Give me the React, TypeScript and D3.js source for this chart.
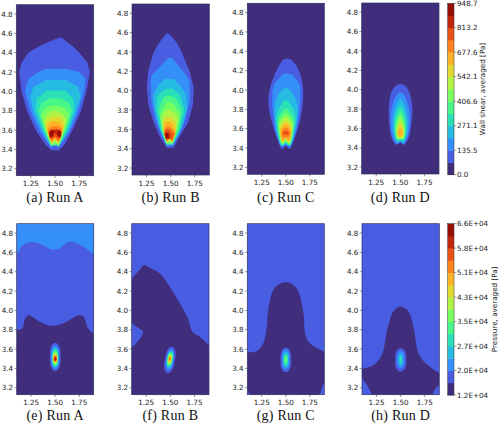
import React from "react";
import * as d3 from "d3";

type Row = [number, number, number];
type Pt = [number, number];

const xTicks = [1.25, 1.5, 1.75];
const yTicks = [3.2, 3.4, 3.6, 3.8, 4.0, 4.2, 4.4, 4.6, 4.8];
const shearTicks = ["0.0", "135.5", "271.1", "406.6", "542.1", "677.6", "813.2", "948.7"];
const pressureTicks = ["1.2E+04", "2.0E+04", "2.7E+04", "3.5E+04", "4.3E+04", "5.1E+04", "5.8E+04", "6.6E+04"];
const topCaptions = ["(a) Run A", "(b) Run B", "(c) Run C", "(d) Run D"];
const bottomCaptions = ["(e) Run A", "(f) Run B", "(g) Run C", "(h) Run D"];

// Wall shear contour outlines: [y, xLeft, xRight], one list per level, from band 1 upward
const shearA: Row[][] = [
  [[3.39,1.46,1.54],[3.45,1.40,1.60],[3.6,1.30,1.68],[3.8,1.21,1.77],[4.0,1.155,1.825],[4.2,1.13,1.86],[4.3,1.155,1.835],[4.4,1.225,1.75],[4.47,1.34,1.68],[4.51,1.43,1.62],[4.555,1.54,1.57]],
  [[3.42,1.46,1.54],[3.6,1.335,1.66],[3.8,1.245,1.74],[4.0,1.19,1.80],[4.13,1.225,1.815],[4.2,1.33,1.75],[4.23,1.40,1.62]],
  [[3.43,1.47,1.53],[3.5,1.41,1.59],[3.6,1.36,1.645],[3.8,1.275,1.72],[3.95,1.245,1.765],[4.05,1.28,1.74],[4.12,1.42,1.60]],
  [[3.44,1.47,1.53],[3.6,1.375,1.63],[3.8,1.30,1.70],[3.93,1.31,1.69],[4.01,1.42,1.60]],
  [[3.43,1.46,1.54],[3.6,1.39,1.615],[3.8,1.33,1.675],[3.88,1.36,1.645],[3.93,1.45,1.56]],
  [[3.44,1.46,1.54],[3.6,1.40,1.60],[3.75,1.355,1.65],[3.82,1.40,1.61],[3.85,1.46,1.54]],
  [[3.45,1.465,1.535],[3.6,1.41,1.59],[3.7,1.385,1.62],[3.76,1.42,1.585],[3.8,1.48,1.52]],
  [[3.46,1.465,1.535],[3.58,1.42,1.58],[3.67,1.40,1.60],[3.72,1.44,1.57],[3.74,1.49,1.52]],
  [[3.47,1.465,1.535],[3.56,1.43,1.57],[3.63,1.415,1.585],[3.68,1.45,1.55],[3.69,1.49,1.51]],
  [[3.48,1.465,1.535],[3.56,1.43,1.565],[3.61,1.43,1.57],[3.64,1.47,1.53]],
  [[3.5,1.45,1.55],[3.58,1.435,1.565],[3.61,1.46,1.54]],
  [[3.52,1.445,1.555],[3.58,1.44,1.56],[3.6,1.47,1.53]],
];
const shearANotch = [0, 3.44, 3.45, 3.455, 3.46, 3.47, 3.48, 3.5, 3.51, 3.52, 3.53, 3.57];
// Small marks at the foot of run A and run B: [yBottom, yTop, xCentre, halfWidth, band]
const lobesA = [[3.525,3.595,1.465,0.02,13],[3.525,3.595,1.545,0.02,13],[3.44,3.485,1.5,0.009,6]];

const shearB: Row[][] = [
  [[3.41,1.46,1.53],[3.52,1.39,1.59],[3.67,1.325,1.68],[3.85,1.27,1.73],[4.03,1.253,1.74],[4.2,1.267,1.695],[4.4,1.325,1.615],[4.5,1.385,1.56],[4.57,1.44,1.50],[4.59,1.455,1.48]],
  [[3.43,1.46,1.525],[3.55,1.405,1.59],[3.7,1.345,1.65],[3.9,1.30,1.70],[4.1,1.295,1.695],[4.16,1.305,1.66],[4.25,1.39,1.59],[4.34,1.48,1.51]],
  [[3.44,1.46,1.52],[3.6,1.385,1.61],[3.8,1.335,1.67],[3.95,1.32,1.66],[4.05,1.37,1.60],[4.12,1.44,1.53]],
  [[3.44,1.455,1.52],[3.6,1.395,1.60],[3.8,1.35,1.645],[3.95,1.365,1.60],[4.02,1.45,1.52]],
  [[3.45,1.455,1.52],[3.6,1.405,1.585],[3.8,1.375,1.615],[3.9,1.41,1.57],[3.95,1.45,1.50]],
  [[3.45,1.455,1.52],[3.6,1.415,1.57],[3.75,1.39,1.60],[3.85,1.44,1.54],[3.88,1.46,1.50]],
  [[3.46,1.46,1.52],[3.6,1.42,1.56],[3.72,1.405,1.575],[3.78,1.44,1.53],[3.80,1.46,1.49]],
  [[3.47,1.46,1.52],[3.6,1.425,1.555],[3.68,1.42,1.55],[3.73,1.46,1.50]],
  [[3.47,1.46,1.52],[3.58,1.43,1.55],[3.65,1.43,1.53],[3.68,1.455,1.49]],
  [[3.48,1.46,1.52],[3.56,1.43,1.55],[3.61,1.435,1.51],[3.63,1.46,1.485]],
  [[3.49,1.455,1.51],[3.55,1.435,1.53],[3.58,1.44,1.50],[3.60,1.46,1.48]],
  [[3.5,1.45,1.49],[3.55,1.44,1.49],[3.57,1.45,1.48]],
  [[3.51,1.45,1.475],[3.54,1.445,1.48],[3.56,1.455,1.47]],
];
const shearBNotch = [0, 0, 0, 3.45, 3.46, 3.47, 3.48, 3.49, 3.5, 3.505, 3.52, 0, 0];
const lobesB = [[3.44,3.48,1.49,0.008,6]];

const shearC: Row[][] = [
  [[3.39,1.46,1.54],[3.5,1.41,1.59],[3.65,1.36,1.64],[3.85,1.32,1.675],[4.0,1.33,1.68],[4.15,1.38,1.655],[4.25,1.43,1.61],[4.31,1.47,1.56],[4.32,1.49,1.53]],
  [[3.41,1.46,1.54],[3.55,1.40,1.60],[3.7,1.375,1.63],[3.9,1.36,1.65],[4.05,1.375,1.645],[4.13,1.44,1.59],[4.165,1.47,1.55]],
  [[3.42,1.46,1.54],[3.6,1.40,1.60],[3.8,1.385,1.625],[3.93,1.41,1.59],[4.0,1.465,1.54],[4.02,1.49,1.52]],
  [[3.43,1.46,1.54],[3.6,1.41,1.59],[3.75,1.405,1.60],[3.85,1.455,1.55],[3.9,1.495,1.505]],
  [[3.43,1.46,1.54],[3.6,1.42,1.58],[3.7,1.42,1.585],[3.78,1.465,1.535],[3.81,1.495,1.505]],
  [[3.44,1.465,1.535],[3.58,1.43,1.57],[3.68,1.43,1.57],[3.76,1.495,1.505]],
  [[3.45,1.465,1.535],[3.58,1.435,1.565],[3.66,1.44,1.56],[3.72,1.495,1.505]],
  [[3.46,1.47,1.53],[3.56,1.44,1.56],[3.63,1.45,1.55],[3.68,1.495,1.505]],
  [[3.47,1.47,1.53],[3.55,1.445,1.555],[3.62,1.46,1.54],[3.65,1.495,1.505]],
  [[3.51,1.47,1.53],[3.55,1.455,1.545],[3.59,1.47,1.53],[3.61,1.495,1.505]],
  [[3.54,1.475,1.525],[3.56,1.47,1.53],[3.575,1.49,1.51]],
];
const shearCNotch = [3.42, 3.43, 3.44, 3.45, 3.46, 3.47, 3.48, 3.49, 3.5, 0, 0];

const shearD: Row[][] = [
  [[3.43,1.46,1.535],[3.5,1.41,1.585],[3.65,1.385,1.615],[3.8,1.38,1.625],[3.95,1.40,1.60],[4.03,1.44,1.56],[4.055,1.48,1.52]],
  [[3.44,1.465,1.535],[3.55,1.41,1.585],[3.7,1.40,1.60],[3.85,1.42,1.58],[3.95,1.465,1.535],[3.97,1.49,1.51]],
  [[3.45,1.47,1.53],[3.55,1.43,1.57],[3.7,1.425,1.575],[3.82,1.45,1.55],[3.9,1.49,1.51]],
  [[3.47,1.47,1.53],[3.55,1.44,1.56],[3.68,1.44,1.56],[3.78,1.465,1.535],[3.83,1.495,1.505]],
  [[3.48,1.47,1.53],[3.55,1.45,1.55],[3.66,1.45,1.55],[3.74,1.475,1.525],[3.78,1.495,1.505]],
  [[3.49,1.47,1.53],[3.55,1.455,1.545],[3.64,1.46,1.54],[3.73,1.495,1.505]],
  [[3.5,1.475,1.525],[3.56,1.46,1.54],[3.63,1.47,1.53],[3.69,1.495,1.505]],
  [[3.51,1.48,1.52],[3.56,1.47,1.53],[3.61,1.475,1.525],[3.65,1.495,1.505]],
  [[3.52,1.485,1.515],[3.55,1.475,1.525],[3.58,1.48,1.52],[3.6,1.495,1.505]],
];
const shearDNotch = [3.45, 3.46, 3.47, 3.48, 3.49, 3.5, 0, 0, 0];

// Pressure fields: large regions, as [x, y] outlines
const pressureATop: Pt[] = [[1.05,4.55],[1.1,4.58],[1.15,4.66],[1.2,4.695],[1.275,4.705],[1.36,4.68],[1.46,4.63],[1.54,4.64],[1.64,4.71],[1.75,4.68],[1.85,4.62],[1.9,4.575],[1.95,4.54],[1.95,5],[1.05,5]];
const pressureADark: Pt[] = [[1.05,3.8],[1.1,3.8],[1.155,3.81],[1.19,3.92],[1.225,3.95],[1.345,3.88],[1.46,3.84],[1.58,3.865],[1.75,3.95],[1.8,3.93],[1.84,3.815],[1.9,3.76],[1.95,3.72],[1.95,3.05],[1.05,3.05]];
const pressureBDark: Pt[] = [[1.05,4.28],[1.1,4.33],[1.165,4.40],[1.23,4.47],[1.285,4.44],[1.387,4.385],[1.47,4.28],[1.558,4.14],[1.68,3.92],[1.73,3.775],[1.8,3.73],[1.9,3.64],[1.95,3.6],[1.95,3.05],[1.05,3.05]];
const pressureBBite: Pt[] = [[1.05,3.6],[1.1,3.62],[1.147,3.66],[1.216,3.78],[1.147,3.83],[1.1,3.87],[1.05,3.9]];
const pressureCDark: Pt[] = [[1.05,3.56],[1.1,3.565],[1.2,3.58],[1.267,3.66],[1.30,3.815],[1.32,4.02],[1.37,4.21],[1.43,4.27],[1.507,4.29],[1.61,4.23],[1.68,3.99],[1.705,3.745],[1.75,3.66],[1.9,3.57],[1.95,3.54],[1.95,3.15],[1.9,3.245],[1.855,3.12],[1.855,3.05],[1.135,3.05],[1.135,3.12],[1.1,3.16],[1.05,3.2]];
const pressureDDark: Pt[] = [[1.05,3.38],[1.1,3.395],[1.22,3.435],[1.305,3.54],[1.365,3.815],[1.425,3.99],[1.5,4.04],[1.58,3.99],[1.635,3.815],[1.69,3.54],[1.78,3.435],[1.9,3.35],[1.95,3.32],[1.95,3.18],[1.9,3.225],[1.83,3.13],[1.83,3.05],[1.2,3.05],[1.2,3.13],[1.1,3.295],[1.05,3.33]];

// Pressure spots: [yBottom, yTop, xCentre, halfWidth, band]
const spotA = [[3.37,3.665,1.5,0.055,1],[3.39,3.64,1.5,0.042,2],[3.41,3.615,1.5,0.035,3],[3.42,3.60,1.5,0.03,4],[3.43,3.585,1.5,0.027,5],[3.44,3.57,1.5,0.024,6],[3.45,3.555,1.5,0.022,7],[3.46,3.545,1.5,0.02,8],[3.465,3.535,1.5,0.018,9],[3.47,3.53,1.5,0.016,10],[3.475,3.525,1.5,0.014,11],[3.48,3.515,1.5,0.012,12]];
const spotB = [[3.35,3.625,1.495,0.052,1],[3.38,3.60,1.495,0.037,2],[3.40,3.585,1.495,0.031,3],[3.42,3.57,1.495,0.027,4],[3.43,3.56,1.495,0.024,5],[3.44,3.55,1.495,0.021,6],[3.45,3.54,1.495,0.018,7],[3.46,3.53,1.495,0.015,8],[3.47,3.525,1.495,0.012,9],[3.48,3.52,1.495,0.009,10]];
const spotC = [[3.36,3.615,1.5,0.055,1],[3.385,3.595,1.5,0.04,2],[3.41,3.57,1.5,0.03,3],[3.43,3.55,1.5,0.022,4],[3.45,3.53,1.5,0.014,5],[3.47,3.515,1.5,0.008,6]];
const spotD = [[3.365,3.61,1.5,0.058,1],[3.40,3.58,1.5,0.038,2],[3.43,3.55,1.5,0.02,3],[3.45,3.53,1.5,0.012,4]];

const bands = 14;
const bandColor = (i: number) => d3.interpolateTurbo((i + 0.5) / bands);
const xDomain: Pt = [1.1, 1.9];
const yDomain: Pt = [3.128, 4.896];

const rowsToPts = (rows: Row[], notch: number): Pt[] => {
  const left = rows.map((r) => [r[1], r[0]] as Pt);
  const right = rows.slice().reverse().map((r) => [r[2], r[0]] as Pt);
  const pts = [...left, ...right];
  if (notch) pts.push([(rows[0][1] + rows[0][2]) / 2, notch]);
  return pts;
};

function Spots({ spots, rotate, x, y }: any) {
  return spots.map((s: number[], i: number) => {
    const yt = y(s[1]);
    const yb = y(s[0]);
    const cy = (yt + yb) / 2;
    const hw = x(s[2] + s[3]) - x(s[2]);
    const h = yb - yt;
    return (
      <rect key={i} x={x(s[2]) - hw} y={yt} width={2 * hw} height={h} rx={hw} ry={h * 0.36}
        fill={bandColor(s[4])} transform={`rotate(${rotate || 0} ${x(s[2])} ${cy})`} />
    );
  });
}

function Panel({ id, x0, x1, y0, y1, caption, capY, children }: any) {
  const x = d3.scaleLinear().domain(xDomain).range([x0, x1]);
  const y = d3.scaleLinear().domain(yDomain).range([y1, y0]);
  const tickCol = "#333";
  return (
    <g fontFamily="DejaVu Sans" fontSize={7.2} fill="#222">
      <clipPath id={id}><rect x={x0} y={y0} width={x1 - x0} height={y1 - y0} /></clipPath>
      <g clipPath={`url(#${id})`}><g filter="url(#soft)">{children(x, y)}</g></g>
      <rect x={x0} y={y0} width={x1 - x0} height={y1 - y0} fill="none" stroke="#2b3560" strokeWidth={0.7} />
      {xTicks.map((t) => (
        <g key={t}>
          <line x1={x(t)} x2={x(t)} y1={y1} y2={y1 + 2.3} stroke={tickCol} strokeWidth={0.5} />
          <text x={x(t)} y={y1 + 10.5} textAnchor="middle">{t.toFixed(2)}</text>
        </g>
      ))}
      {yTicks.map((t) => (
        <g key={t}>
          <line x1={x0 - 2.3} x2={x0} y1={y(t)} y2={y(t)} stroke={tickCol} strokeWidth={0.5} />
          <text x={x0 - 3.6} y={y(t) + 2.6} textAnchor="end">{t.toFixed(1)}</text>
        </g>
      ))}
      <text x={(x0 + x1) / 2} y={capY} textAnchor="middle" fontFamily="Liberation Serif" fontSize={14} letterSpacing={0.25} fill="#111">{caption}</text>
    </g>
  );
}

function ShearField({ levels, notches, smooth, lobes, x, y }: any) {
  const line = d3.line<Pt>().x((d) => x(d[0])).y((d) => y(d[1]))
    .curve(smooth ? d3.curveCatmullRomClosed.alpha(0.5) : d3.curveLinearClosed);
  return (
    <>
      <rect x={x(1)} y={y(5)} width={x(2) - x(1)} height={y(3) - y(5)} fill={bandColor(0)} />
      {levels.map((rows: Row[], i: number) => (
        <path key={i} d={line(rowsToPts(rows, notches[i])) as string} fill={bandColor(i + 1)} />
      ))}
      <Spots spots={lobes} rotate={0} x={x} y={y} />
    </>
  );
}

function PressureField({ regions, spots, rotate, x, y }: any) {
  const line = d3.line<Pt>().x((d) => x(d[0])).y((d) => y(d[1])).curve(d3.curveCatmullRom.alpha(0.5));
  return (
    <>
      <rect x={x(1)} y={y(5)} width={x(2) - x(1)} height={y(3) - y(5)} fill={bandColor(1)} />
      {regions.map((r: any, i: number) => (
        <path key={i} d={(line(r.pts) as string) + "Z"} fill={bandColor(r.band)} />
      ))}
      <Spots spots={spots} rotate={rotate} x={x} y={y} />
    </>
  );
}

function Colorbar({ x0, x1, y0, y1, ticks, label, labelX }: any) {
  const y = d3.scaleLinear().domain([0, ticks.length - 1]).range([y1, y0]);
  const b = d3.scaleLinear().domain([0, bands]).range([y1, y0]);
  return (
    <g fontFamily="DejaVu Sans" fontSize={7.2} fill="#222">
      {d3.range(bands).map((i) => (
        <rect key={i} x={x0} width={x1 - x0} y={b(i + 1)} height={b(i) - b(i + 1) + 0.4} fill={bandColor(i)} />
      ))}
      <rect x={x0} y={y0} width={x1 - x0} height={y1 - y0} fill="none" stroke="#333" strokeWidth={0.5} />
      {ticks.map((t: string, i: number) => (
        <g key={t}>
          <line x1={x1} x2={x1 + 2.3} y1={y(i)} y2={y(i)} stroke="#333" strokeWidth={0.5} />
          <text x={x1 + 3} y={y(i) + 2.6}>{t}</text>
        </g>
      ))}
      <text transform={`translate(${labelX} ${(y0 + y1) / 2}) rotate(-90)`} textAnchor="middle">{label}</text>
    </g>
  );
}

export default function App() {
  const top = [
    { x0: 16.3, x1: 93.7, y0: 4.7, y1: 175.7, levels: shearA, notches: shearANotch, smooth: false, lobes: lobesA },
    { x0: 132, x1: 209.3, y0: 4, y1: 175, levels: shearB, notches: shearBNotch, smooth: false, lobes: lobesB },
    { x0: 247.3, x1: 324.3, y0: 3.3, y1: 174.3, levels: shearC, notches: shearCNotch, smooth: true, lobes: [] },
    { x0: 361.7, x1: 439, y0: 3, y1: 174, levels: shearD, notches: shearDNotch, smooth: true, lobes: [] },
  ];
  const bottom = [
    { x0: 16.7, x1: 93.7, regions: [{ pts: pressureATop, band: 2 }, { pts: pressureADark, band: 0 }], spots: spotA, rotate: 0 },
    { x0: 131.7, x1: 209, regions: [{ pts: pressureBDark, band: 0 }, { pts: pressureBBite, band: 1 }], spots: spotB, rotate: 10 },
    { x0: 247.3, x1: 324.3, regions: [{ pts: pressureCDark, band: 0 }], spots: spotC, rotate: 0 },
    { x0: 362, x1: 439.3, regions: [{ pts: pressureDDark, band: 0 }], spots: spotD, rotate: 0 },
  ];
  return (
    <svg width={500} height={423} style={{ position: "fixed", left: 0, top: 0, background: "#fff" }}>
      <defs>
        <filter id="soft" x="-5%" y="-5%" width="110%" height="110%">
          <feGaussianBlur stdDeviation={0.45} />
        </filter>
      </defs>
      {top.map((p, i) => (
        <Panel key={i} id={`t${i}`} x0={p.x0} x1={p.x1} y0={p.y0} y1={p.y1} caption={topCaptions[i]} capY={202}>
          {(x: any, y: any) => <ShearField levels={p.levels} notches={p.notches} smooth={p.smooth} lobes={p.lobes} x={x} y={y} />}
        </Panel>
      ))}
      {bottom.map((p, i) => (
        <Panel key={i} id={`b${i}`} x0={p.x0} x1={p.x1} y0={223.7} y1={394.7} caption={bottomCaptions[i]} capY={420}>
          {(x: any, y: any) => <PressureField regions={p.regions} spots={p.spots} rotate={p.rotate} x={x} y={y} />}
        </Panel>
      ))}
      <Colorbar x0={447.7} x1={454} y0={3.3} y1={174.7} ticks={shearTicks} label="Wall shear, averaged [Pa]" labelX={485} />
      <Colorbar x0={447.7} x1={454} y0={223.7} y1={395} ticks={pressureTicks} label="Pressure, averaged [Pa]" labelX={497} />
    </svg>
  );
}
